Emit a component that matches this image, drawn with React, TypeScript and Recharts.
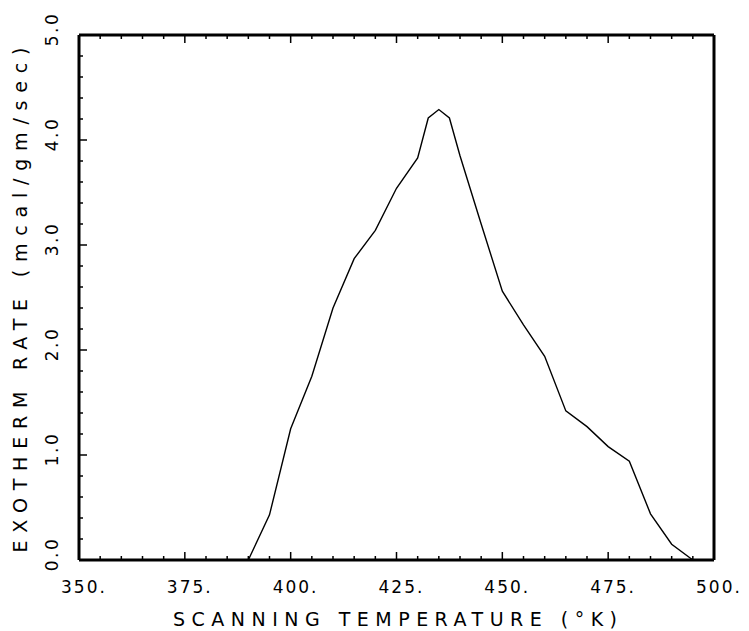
import { LineChart, Line, XAxis, YAxis } from "recharts";

const temps = [390, 395, 400, 405, 410, 415, 420, 425, 430, 432.5, 435, 437.5, 440, 445, 450, 455, 460, 465, 470, 475, 480, 485, 490, 495];
const rates = [0, 0.43, 1.25, 1.75, 2.4, 2.87, 3.14, 3.54, 3.83, 4.21, 4.29, 4.21, 3.85, 3.2, 2.56, 2.24, 1.94, 1.42, 1.27, 1.08, 0.94, 0.44, 0.15, 0];

const xMajor = [350, 375, 400, 425, 450, 475, 500];
const yMajor = [0, 1, 2, 3, 4, 5];
const xTicks = Array.from({ length: 31 }, (_, i) => 350 + i * 5);
const yTicks = Array.from({ length: 26 }, (_, i) => Math.round(i * 2) / 10);

const data = temps.map((t, i) => ({ t, rate: rates[i] }));

const FONT = "'DejaVu Sans', sans-serif";
const isMajorX = (v: number) => xMajor.includes(v);
const isMajorY = (v: number) => yMajor.some((m) => Math.abs(m - v) < 1e-6);

function BottomTick({ x, y, payload }: any) {
  const major = isMajorX(payload.value);
  return (
    <g>
      <line x1={x} x2={x} y1={y} y2={y - (major ? 8 : 4)} stroke="#000" strokeWidth={1.5} />
      {major && (
        <text x={x - 18} y={y + 33} fontSize={17} fontFamily={FONT} letterSpacing={2} fill="#000">
          {payload.value}.
        </text>
      )}
    </g>
  );
}

function TopTick({ x, y, payload }: any) {
  const major = isMajorX(payload.value);
  return <line x1={x} x2={x} y1={y} y2={y + (major ? 8 : 4)} stroke="#000" strokeWidth={1.5} />;
}

function LeftTick({ x, y, payload }: any) {
  const major = isMajorY(payload.value);
  const v = Number(payload.value);
  return (
    <g>
      <line x1={x} x2={x + (major ? 8 : 4)} y1={y} y2={y} stroke="#000" strokeWidth={1.5} />
      {major && (
        <text
          transform={`translate(${x - 21},${y - 6}) rotate(-90)`}
          textAnchor="middle"
          fontSize={17}
          fontFamily={FONT}
          letterSpacing={2.5}
          fill="#000"
        >
          {v.toFixed(1)}
        </text>
      )}
    </g>
  );
}

function RightTick({ x, y, payload }: any) {
  const major = isMajorY(payload.value);
  return <line x1={x} x2={x - (major ? 8 : 4)} y1={y} y2={y} stroke="#000" strokeWidth={1.5} />;
}

const frame = { stroke: "#000", strokeWidth: 3 };

export default function App() {
  return (
    <LineChart width={733} height={623} data={data} margin={{ top: 26, right: 26, bottom: 0, left: 0 }}>
      <XAxis
        dataKey="t"
        type="number"
        domain={[350, 500]}
        ticks={xTicks}
        interval={0}
        height={71}
        tickSize={0}
        tickMargin={0}
        tickLine={false}
        axisLine={frame}
        tick={<BottomTick />}
      />
      <XAxis
        xAxisId="top"
        dataKey="t"
        type="number"
        orientation="top"
        domain={[350, 500]}
        ticks={xTicks}
        interval={0}
        height={1}
        tickSize={0}
        tickMargin={0}
        tickLine={false}
        axisLine={frame}
        tick={<TopTick />}
      />
      <YAxis
        type="number"
        domain={[0, 5]}
        ticks={yTicks}
        interval={0}
        width={71}
        tickSize={0}
        tickMargin={0}
        tickLine={false}
        axisLine={frame}
        tick={<LeftTick />}
        label={{
          value: "EXOTHERM RATE (mcal/gm/sec)",
          content: () => (
            <text
              transform="translate(19,292) rotate(-90)"
              textAnchor="middle"
              fontSize={19}
              fontFamily={FONT}
              textLength={505}
              lengthAdjust="spacing"
              fill="#000"
            >
              EXOTHERM  RATE  (mcal/gm/sec)
            </text>
          ),
        }}
      />
      <YAxis
        yAxisId="right"
        orientation="right"
        type="number"
        domain={[0, 5]}
        ticks={yTicks}
        interval={0}
        width={1}
        tickSize={0}
        tickMargin={0}
        tickLine={false}
        axisLine={frame}
        tick={<RightTick />}
      />
      <text
        x={387}
        y={618}
        textAnchor="middle"
        fontSize={19}
        fontFamily={FONT}
        textLength={444}
        lengthAdjust="spacing"
        fill="#000"
      >
        SCANNING  TEMPERATURE  (°K)
      </text>
      <Line
        type="linear"
        dataKey="rate"
        stroke="#000"
        strokeWidth={1.4}
        dot={false}
        isAnimationActive={false}
      />
    </LineChart>
  );
}
